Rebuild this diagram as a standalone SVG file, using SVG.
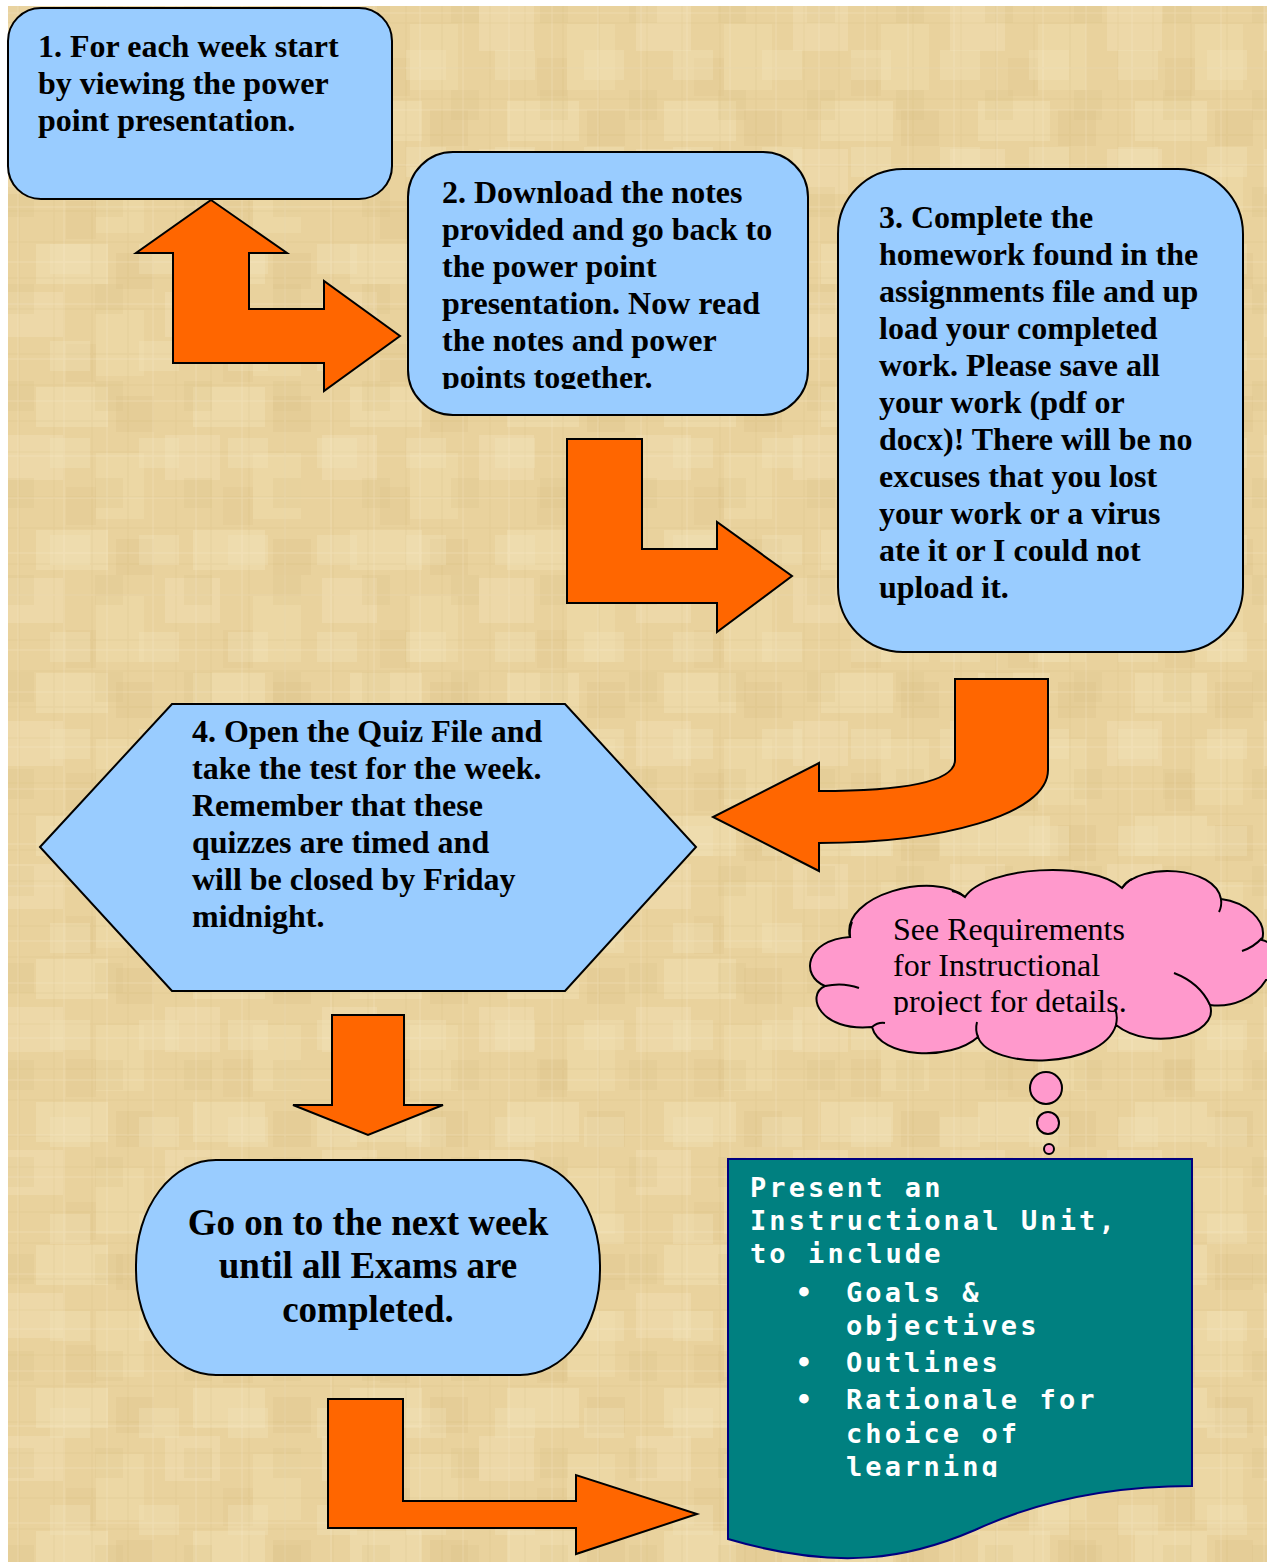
<svg xmlns="http://www.w3.org/2000/svg" width="1267" height="1562" viewBox="0 0 1267 1562">
  <style>
    .box { fill: #99CCFF; stroke: #000; stroke-width: 2; }
    .arrow { fill: #FF6600; stroke: #000; stroke-width: 2; stroke-linejoin: miter; }
    .t { font-family: "Liberation Serif", "Times New Roman", serif; font-weight: bold; font-size: 32px; fill: #000; }
    .big { font-family: "Liberation Serif", "Times New Roman", serif; font-weight: bold; font-size: 37px; fill: #000; }
    .reg { font-family: "Liberation Serif", "Times New Roman", serif; font-size: 32px; fill: #000; }
    .mono { font-family: "DejaVu Sans Mono", "Liberation Mono", monospace; font-weight: bold; font-size: 27px; letter-spacing: 3.1px; fill: #FFFFFF; }
    .cloud { fill: #FF99CC; stroke: #000; stroke-width: 2; }
    .crease { fill: none; stroke: #000; stroke-width: 2; }
  </style>
  <defs>
    <pattern id="papyrusA" x="8" y="6" width="157" height="143" patternUnits="userSpaceOnUse">
      <rect x="0" y="0" width="55" height="45" fill="#F2E1B6" opacity="0.45"/>
      <rect x="88" y="18" width="48" height="66" fill="#F1DEB0" opacity="0.4"/>
      <rect x="28" y="95" width="72" height="40" fill="#F3E3BA" opacity="0.4"/>
      <rect x="108" y="104" width="38" height="36" fill="#DCC087" opacity="0.3"/>
      <rect x="58" y="52" width="30" height="38" fill="#DFC48C" opacity="0.3"/>
      <g stroke="#D2B576" stroke-width="1" opacity="0.22">
        <line x1="11" y1="0" x2="11" y2="143"/>
        <line x1="46" y1="0" x2="46" y2="143"/>
        <line x1="84" y1="0" x2="84" y2="143"/>
        <line x1="120" y1="0" x2="120" y2="143"/>
        <line x1="0" y1="17" x2="157" y2="17"/>
        <line x1="0" y1="62" x2="157" y2="62"/>
        <line x1="0" y1="93" x2="157" y2="93"/>
        <line x1="0" y1="129" x2="157" y2="129"/>
      </g>
    </pattern>
    <pattern id="papyrusB" x="40" y="30" width="89" height="97" patternUnits="userSpaceOnUse">
      <rect x="10" y="20" width="40" height="30" fill="#F4E5BF" opacity="0.3"/>
      <rect x="55" y="60" width="28" height="30" fill="#D9BC82" opacity="0.2"/>
      <g stroke="#F7EACA" stroke-width="1" opacity="0.35">
        <line x1="24" y1="0" x2="24" y2="97"/>
        <line x1="67" y1="0" x2="67" y2="97"/>
        <line x1="0" y1="38" x2="89" y2="38"/>
        <line x1="0" y1="80" x2="89" y2="80"/>
      </g>
    </pattern>
    <clipPath id="clip2"><rect x="408" y="151" width="400" height="238"/></clipPath>
    <clipPath id="clipCloud"><rect x="800" y="860" width="467" height="155"/></clipPath>
    <clipPath id="clipDoc"><rect x="728" y="1159" width="464" height="318"/></clipPath>
  </defs>

  <rect x="0" y="0" width="1267" height="1562" fill="#FFFFFF"/>
  <rect x="8" y="6" width="1259" height="1556" fill="#E9D29D"/>
  <rect x="8" y="6" width="1259" height="1556" fill="url(#papyrusA)"/>
  <rect x="8" y="6" width="1259" height="1556" fill="url(#papyrusB)"/>

  <g id="connectors">
    <path class="arrow" d="M211,200 L287,253 L249,253 L249,309 L324,309 L324,281 L400,336 L324,391 L324,363 L173,363 L173,253 L136,253 Z"/>
    <path class="arrow" d="M567,439 L642,439 L642,549 L717,549 L717,522 L792,576 L717,632 L717,603 L567,603 Z"/>
    <path class="arrow" d="M955,679 L1048,679 L1048,770 C1048,815 940,843 819,843 L819,871 L713,817 L819,763 L819,791 C900,791 955,783 955,760 Z"/>
    <path class="arrow" d="M332,1015 L404,1015 L404,1105 L443,1105 L368,1135 L293,1105 L332,1105 Z"/>
    <path class="arrow" d="M328,1399 L403,1399 L403,1501 L576,1501 L576,1475 L697,1514 L576,1554 L576,1528 L328,1528 Z"/>
  </g>

  <g id="node1">
    <rect class="box" x="8" y="8" width="384" height="191" rx="33" ry="33"/>
    <text class="t" x="38" y="57">1. For each week start</text>
    <text class="t" x="38" y="94">by viewing the power</text>
    <text class="t" x="38" y="131">point presentation.</text>
  </g>

  <g id="node2">
    <rect class="box" x="408" y="152" width="400" height="263" rx="45" ry="45"/>
    <g clip-path="url(#clip2)">
      <text class="t" x="442" y="203">2. Download the notes</text>
      <text class="t" x="442" y="240">provided and go back to</text>
      <text class="t" x="442" y="277">the power point</text>
      <text class="t" x="442" y="314">presentation. Now read</text>
      <text class="t" x="442" y="351">the notes and power</text>
      <text class="t" x="442" y="388">points together.</text>
    </g>
  </g>

  <g id="node3">
    <rect class="box" x="838" y="169" width="405" height="483" rx="65" ry="65"/>
    <text class="t" x="879" y="228">3. Complete the</text>
    <text class="t" x="879" y="265">homework found in the</text>
    <text class="t" x="879" y="302">assignments file and up</text>
    <text class="t" x="879" y="339">load your completed</text>
    <text class="t" x="879" y="376">work. Please save all</text>
    <text class="t" x="879" y="413">your work (pdf or</text>
    <text class="t" x="879" y="450">docx)! There will be no</text>
    <text class="t" x="879" y="487">excuses that you lost</text>
    <text class="t" x="879" y="524">your work or a virus</text>
    <text class="t" x="879" y="561">ate it or I could not</text>
    <text class="t" x="879" y="598">upload it.</text>
  </g>

  <g id="node4">
    <polygon class="box" points="40,847 172,704 565,704 696,847 565,991 172,991"/>
    <text class="t" x="192" y="742">4. Open the Quiz File and</text>
    <text class="t" x="192" y="779">take the test for the week.</text>
    <text class="t" x="192" y="816">Remember that these</text>
    <text class="t" x="192" y="853">quizzes are timed and</text>
    <text class="t" x="192" y="890">will be closed by Friday</text>
    <text class="t" x="192" y="927">midnight.</text>
  </g>

  <g id="node5">
    <rect class="box" x="136" y="1160" width="464" height="215" rx="80" ry="105"/>
    <text class="big" x="368" y="1235" text-anchor="middle">Go on to the next week</text>
    <text class="big" x="368" y="1278" text-anchor="middle">until all Exams are</text>
    <text class="big" x="368" y="1322" text-anchor="middle">completed.</text>
  </g>

  <g id="cloud">
    <path class="cloud" d="M850,937 C840,895 935,870 965,897 C985,866 1092,860 1122,888 C1140,862 1215,866 1221,899 C1245,902 1268,920 1262,940 C1282,945 1288,976 1266,980 C1255,998 1232,1008 1210,1005 C1220,1036 1150,1052 1116,1025 C1102,1070 990,1070 978,1037 C950,1062 880,1058 872,1027 C820,1032 805,995 825,986 C800,976 805,940 850,937 Z"/>
    <path class="crease" d="M825,986 Q843,982 859,988"/>
    <path class="crease" d="M850,937 Q849,930 852,922"/>
    <path class="crease" d="M965,897 Q960,893 952,891"/>
    <path class="crease" d="M1122,888 Q1126,882 1132,879"/>
    <path class="crease" d="M1221,899 Q1222,906 1219,912"/>
    <path class="crease" d="M1242,951 Q1254,947 1262,938"/>
    <path class="crease" d="M1174,973 Q1200,983 1210,1005"/>
    <path class="crease" d="M1116,1025 Q1118,1016 1115,1009"/>
    <path class="crease" d="M978,1037 Q975,1030 977,1022"/>
    <path class="crease" d="M872,1027 Q878,1022 885,1023"/>
    <g clip-path="url(#clipCloud)">
      <text class="reg" x="893" y="940">See Requirements</text>
      <text class="reg" x="893" y="976">for Instructional</text>
      <text class="reg" x="893" y="1012">project for details.</text>
    </g>
    <circle class="cloud" cx="1046" cy="1088" r="16"/>
    <circle class="cloud" cx="1048" cy="1123" r="11"/>
    <circle class="cloud" cx="1049" cy="1149" r="5"/>
  </g>

  <g id="document">
    <path d="M728,1159 L1192,1159 L1192,1486 C1110,1486 1040,1500 975,1530 C910,1558 840,1572 728,1539 Z" fill="#008080" stroke="#000080" stroke-width="2"/>
    <g clip-path="url(#clipDoc)" class="mono">
      <text x="750" y="1197">Present an</text>
      <text x="750" y="1230">Instructional Unit,</text>
      <text x="750" y="1263">to include</text>
      <text x="804" y="1302" text-anchor="middle" letter-spacing="0">•</text>
      <text x="846" y="1302">Goals &amp;</text>
      <text x="846" y="1335">objectives</text>
      <text x="804" y="1372" text-anchor="middle" letter-spacing="0">•</text>
      <text x="846" y="1372">Outlines</text>
      <text x="804" y="1409" text-anchor="middle" letter-spacing="0">•</text>
      <text x="846" y="1409">Rationale for</text>
      <text x="846" y="1443">choice of</text>
      <text x="846" y="1476">learning</text>
    </g>
  </g>
</svg>
